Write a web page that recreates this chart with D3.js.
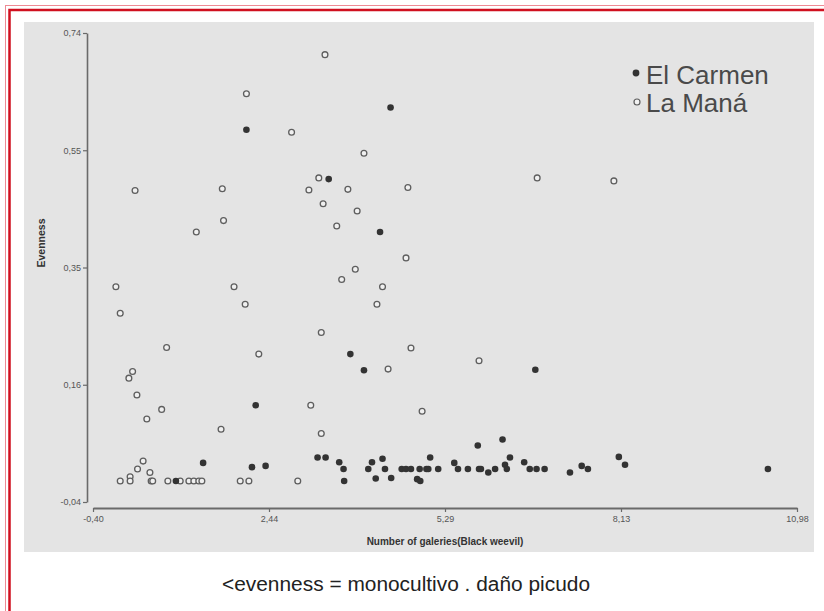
<!DOCTYPE html>
<html>
<head>
<meta charset="utf-8">
<script src="https://cdn.jsdelivr.net/npm/d3@7"></script>
<style>
  html, body { margin: 0; padding: 0; background: #fff; }
  svg { display: block; }
</style>
</head>
<body>
<svg id="chart" width="824" height="611"></svg>
<script>
// Evenness against number of galleries (black weevil), two localities
const carmenX = [2.08, 4.41, 3.41, 4.24, 2.23, 3.76, 3.98, 6.75, 1.38, 2.17, 2.39, 3.23, 3.36, 3.58, 0.94,
  5.82, 6.22, 5.05, 6.34, 4.11, 4.28, 5.44, 6.57, 6.26,
  3.65, 4.05, 4.32, 4.59, 4.66, 4.74, 4.88, 4.99, 5.02, 5.18, 5.50, 5.66, 5.84, 5.87, 6.10, 6.29, 6.66, 6.77, 6.90,
  7.50, 7.60, 8.10, 8.20, 10.51, 7.31, 5.99, 3.66, 4.17, 4.42, 4.84, 4.89];
const carmenY = [0.579, 0.616, 0.497, 0.409, 0.121, 0.206, 0.179, 0.180, 0.025, 0.018, 0.020, 0.034, 0.034, 0.026, -0.005,
  0.054, 0.064, 0.034, 0.034, 0.026, 0.032, 0.025, 0.026, 0.022,
  0.015, 0.015, 0.015, 0.015, 0.015, 0.015, 0.015, 0.015, 0.015, 0.015, 0.015, 0.015, 0.015, 0.015, 0.015, 0.015, 0.015, 0.015, 0.015,
  0.020, 0.015, 0.035, 0.022, 0.015, 0.009, 0.009, -0.005, -0.001, 0.000, -0.002, -0.005];

const manaX = [3.35, 2.08, 2.81, 3.25, 3.09, 0.28, 1.69, 3.32, 1.71, 1.27, 3.54, 3.98, 3.72, 4.69, 3.87, 4.66, 3.84, 3.62, 6.78, 8.02,
  -0.03, 1.88, 2.06, 0.04, 3.29, 0.79, 2.28, 0.24, 0.18, 0.31, 3.12, 0.71, 0.47, 1.67, 3.29, 0.41, 0.32, 0.52, 0.20,
  0.04, 0.20, 0.54, 0.565, 0.81, 1.01, 1.15, 1.23, 1.31, 1.36, 1.98, 2.12, 2.91,
  4.28, 4.19, 4.74, 4.37, 5.84, 4.92];
const manaY = [0.704, 0.639, 0.575, 0.499, 0.479, 0.478, 0.481, 0.456, 0.428, 0.409, 0.419, 0.540, 0.480, 0.483, 0.444, 0.366, 0.347, 0.330, 0.499, 0.494,
  0.318, 0.318, 0.289, 0.274, 0.242, 0.217, 0.206, 0.177, 0.166, 0.138, 0.121, 0.114, 0.098, 0.081, 0.074, 0.028, 0.015, 0.009, 0.002,
  -0.005, -0.005, -0.005, -0.005, -0.005, -0.005, -0.005, -0.005, -0.005, -0.005, -0.005, -0.005, -0.005,
  0.318, 0.289, 0.216, 0.181, 0.195, 0.111];

const xTicks = [-0.40, 2.445, 5.29, 8.135, 10.98];
const xTickLabels = ["-0,40", "2,44", "5,29", "8,13", "10,98"];
const yTicks = [-0.04, 0.155, 0.35, 0.545, 0.74];
const yTickLabels = ["-0,04", "0,16", "0,35", "0,55", "0,74"];

const seriesNames = ["El Carmen", "La Maná"];
const xTitle = "Number of galeries(Black weevil)";
const yTitle = "Evenness";
const caption = "<evenness = monocultivo . daño picudo";

const svg = d3.select("#chart");

// page frame: thin pale outer line plus a heavier red line inside it
svg.append("rect").attr("x", 5.5).attr("y", 5.5).attr("width", 840).attr("height", 640)
  .attr("fill", "none").attr("stroke", "#ee8a94").attr("stroke-width", 1);
svg.append("rect").attr("x", 9.5).attr("y", 10).attr("width", 840).attr("height", 640)
  .attr("fill", "none").attr("stroke", "#d0101f").attr("stroke-width", 2.5);

// grey plotting panel
svg.append("rect").attr("x", 24).attr("y", 22).attr("width", 790).attr("height", 530)
  .attr("fill", "#e4e4e4");

const x = d3.scaleLinear().domain([-0.40, 10.98]).range([93, 797]);
const y = d3.scaleLinear().domain([-0.04, 0.74]).range([502, 33]);

const axisColor = "#6a6a6a";
const font = "Liberation Sans, Arial, sans-serif";

// y axis (detached, left of the data)
const yAxis = svg.append("g").attr("transform", "translate(87,0)")
  .call(d3.axisLeft(y).tickValues(yTicks).tickSize(4).tickSizeOuter(0)
    .tickFormat((d, i) => yTickLabels[i]));
yAxis.select(".domain").attr("stroke", axisColor).attr("stroke-width", 1.6);
yAxis.selectAll(".tick line").attr("stroke", axisColor).attr("stroke-width", 1.2);
yAxis.selectAll(".tick text").attr("fill", "#555").attr("font-family", font)
  .attr("font-size", 9).attr("x", -6);

// x axis (detached, below the data)
const xAxis = svg.append("g").attr("transform", "translate(0,508)")
  .call(d3.axisBottom(x).tickValues(xTicks).tickSize(4).tickSizeOuter(0)
    .tickFormat((d, i) => xTickLabels[i]));
xAxis.select(".domain").attr("stroke", axisColor).attr("stroke-width", 2.2);
xAxis.selectAll(".tick line").attr("stroke", axisColor).attr("stroke-width", 1.2);
xAxis.selectAll(".tick text").attr("fill", "#555").attr("font-family", font)
  .attr("font-size", 9).attr("y", 8);

// axis titles
svg.append("text").attr("transform", "translate(45,243) rotate(-90)")
  .attr("text-anchor", "middle").attr("font-family", font)
  .attr("font-weight", "bold").attr("font-size", 10.5).attr("fill", "#333").text(yTitle);
svg.append("text").attr("x", 445).attr("y", 545)
  .attr("text-anchor", "middle").attr("font-family", font)
  .attr("font-weight", "bold").attr("font-size", 10).attr("fill", "#333").text(xTitle);

// La Maná: open circles
const mana = d3.range(manaX.length).map(i => ({ x: manaX[i], y: manaY[i] }));
svg.append("g").selectAll("circle").data(mana).join("circle")
  .attr("cx", d => x(d.x)).attr("cy", d => y(d.y)).attr("r", 2.9)
  .attr("fill", "#f0f0f0").attr("stroke", "#5e5e5e").attr("stroke-width", 1.3);

// El Carmen: filled circles
const carmen = d3.range(carmenX.length).map(i => ({ x: carmenX[i], y: carmenY[i] }));
svg.append("g").selectAll("circle").data(carmen).join("circle")
  .attr("cx", d => x(d.x)).attr("cy", d => y(d.y)).attr("r", 3.3)
  .attr("fill", "#333");

// legend
const legend = svg.append("g").attr("font-family", font)
  .attr("font-size", 26).attr("fill", "#4a4a4a");
legend.append("circle").attr("cx", 636).attr("cy", 73).attr("r", 3.4).attr("fill", "#333");
legend.append("text").attr("x", 646).attr("y", 84).text(seriesNames[0]);
legend.append("circle").attr("cx", 637).attr("cy", 102).attr("r", 3).attr("fill", "#f2f2f2")
  .attr("stroke", "#5e5e5e").attr("stroke-width", 1.2);
legend.append("text").attr("x", 646).attr("y", 112).text(seriesNames[1]);

// caption under the chart
svg.append("text").attr("x", 222).attr("y", 591)
  .attr("font-family", font).attr("font-size", 20)
  .attr("textLength", 368).attr("lengthAdjust", "spacingAndGlyphs")
  .attr("fill", "#222").text(caption);
</script>
</body>
</html>
